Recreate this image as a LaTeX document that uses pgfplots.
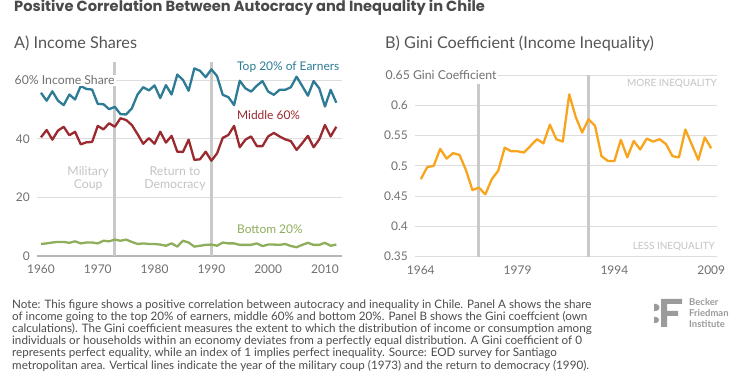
\documentclass[border=0pt]{standalone}
\usepackage{fontspec}
\setmainfont{Lato}
\newfontfamily\titlefont{Poppins}
\usepackage{pgfplots}
\pgfplotsset{compat=1.18}
\definecolor{titlegray}{HTML}{4A4A4A}
\definecolor{paneltitle}{HTML}{555555}
\definecolor{ticklab}{HTML}{707070}
\definecolor{gridgray}{HTML}{DDDDDD}
\definecolor{vgray}{HTML}{C9C9C9}
\definecolor{axgray}{HTML}{B5B5B5}
\definecolor{annot}{HTML}{C4C4C4}
\definecolor{teal}{HTML}{2E7B95}
\definecolor{dred}{HTML}{9A2A30}
\definecolor{lgreen}{HTML}{8FAE5C}
\definecolor{orng}{HTML}{F8A51D}
\definecolor{notegray}{HTML}{4D4D4D}
\definecolor{logogray}{HTML}{9B9B9B}

\pgfplotstableread{
year top mid bot
1960 55.7 40.5 4.1
1961 53.0 43.0 4.3
1962 56.2 39.7 4.6
1963 53.0 42.8 4.8
1964 51.5 44.1 4.8
1965 55.1 41.2 4.5
1966 53.4 42.4 5.0
1967 58.0 38.1 4.3
1968 57.0 38.8 4.6
1969 56.8 38.9 4.6
1970 51.9 44.4 4.3
1971 51.8 43.2 5.2
1972 50.1 45.3 5.0
1973 50.9 44.1 5.6
1974 48.4 47.0 5.2
1975 48.3 46.4 5.6
1976 50.4 44.7 4.8
1977 55.1 41.6 4.1
1978 57.6 38.3 4.3
1979 56.5 40.2 4.1
1980 58.2 38.3 4.1
1981 53.9 42.4 3.9
1982 58.3 38.7 3.5
1983 55.1 41.0 4.3
1984 61.9 35.6 3.2
1985 60.1 35.5 5.2
1986 56.4 39.7 4.6
1987 64.0 32.8 3.2
1988 63.2 33.0 3.5
1989 61.0 35.6 3.8
1990 63.7 32.5 3.9
1991 61.4 35.0 3.5
1992 55.0 40.3 4.6
1993 54.2 41.3 4.3
1994 51.5 44.4 4.3
1995 59.8 37.1 3.8
1996 57.2 39.7 3.8
1997 56.1 40.8 3.8
1998 58.1 37.5 4.3
1999 59.7 37.5 3.4
2000 56.1 40.8 3.9
2001 55.0 42.0 3.9
2002 56.7 40.8 3.8
2003 56.7 39.8 4.1
2004 57.6 39.2 3.4
2005 61.2 36.2 3.0
2006 58.0 38.5 3.8
2007 54.7 41.0 4.5
2008 59.7 37.1 3.8
2009 57.2 39.8 3.8
2010 51.0 44.7 4.5
2011 56.7 40.8 3.5
2012 52.3 44.1 3.9
}\shares

\pgfplotstableread{
year gini
1964 0.478
1965 0.498
1966 0.500
1967 0.528
1968 0.512
1969 0.521
1970 0.518
1971 0.493
1972 0.460
1973 0.464
1974 0.453
1975 0.478
1976 0.492
1977 0.530
1978 0.524
1979 0.524
1980 0.522
1981 0.533
1982 0.544
1983 0.537
1984 0.568
1985 0.544
1986 0.540
1987 0.618
1988 0.581
1989 0.555
1990 0.577
1991 0.566
1992 0.516
1993 0.508
1994 0.508
1995 0.543
1996 0.514
1997 0.541
1998 0.527
1999 0.545
2000 0.540
2001 0.544
2002 0.536
2003 0.516
2004 0.514
2005 0.560
2006 0.535
2007 0.510
2008 0.547
2009 0.529
}\gini

\pgfplotsset{
  panel/.style={
    scale only axis,
    axis line style={draw=none},
    major tick length=0pt,
    ymajorgrids,
    grid style={gridgray, line width=1bp},
    /pgf/number format/assume math mode=true,
    /pgf/number format/1000 sep={},
    tick label style={font=\fontsize{12}{14}\selectfont, text=ticklab},
    yticklabel style={anchor=east, inner sep=0pt, xshift=-7bp},
    xticklabel style={anchor=north, inner sep=0pt, yshift=-9bp},
    clip=false,
  },
}

\begin{document}
\begin{tikzpicture}
\path[use as bounding box, fill=white] (0,0) rectangle (750bp,375bp);

% Title
\node[anchor=base west, inner sep=0pt, text=titlegray, font=\titlefont\fontsize{14.7}{16}\selectfont\bfseries] at (14bp,363bp) {Positive Correlation Between Autocracy and Inequality in Chile};

% Panel titles
\node[anchor=base west, inner sep=0pt, text=paneltitle, font=\fontsize{16.3}{18}\selectfont] at (14bp,326bp) {A) Income Shares};
\node[anchor=base west, inner sep=0pt, text=paneltitle, font=\fontsize{16.3}{18}\selectfont] at (385bp,326bp) {B) Gini Coefficient (Income Inequality)};

% Panel A
\begin{axis}[panel,
  at={(37bp,119bp)}, anchor=south west,
  width=305bp, height=194bp,
  xmin=1959.3, xmax=2013, ymin=0, ymax=66.2,
  xtick={1960,1970,...,2010},
  ytick={20,40,60}, yticklabels={20,40,{}},
  extra y ticks={0}, extra y tick labels={0},
  extra y tick style={grid=none},
]
\draw[axgray, line width=1.2bp] (axis cs:1959.3,0) -- (axis cs:2013,0);
\addplot[vgray, line width=3bp, forget plot] coordinates {(1973,0) (1973,66.2)};
\addplot[vgray, line width=3bp, forget plot] coordinates {(1990,0) (1990,66.2)};
\addplot[teal, line width=2.3bp, line join=round] table[x=year, y=top] {\shares};
\addplot[dred, line width=2.3bp, line join=round] table[x=year, y=mid] {\shares};
\addplot[lgreen, line width=2.3bp, line join=round] table[x=year, y=bot] {\shares};
\node[anchor=west, fill=white, inner xsep=1.5bp, inner ysep=1bp, text=ticklab, font=\fontsize{12.3}{14}\selectfont] at (axis cs:1959.3,60) [xshift=-24bp] {60\% Income Share};
\node[anchor=west, inner sep=0pt, text=teal, font=\fontsize{12}{14}\selectfont] at (axis cs:1994.5,64.5) {Top 20\% of Earners};
\node[anchor=west, inner sep=0pt, text=dred, font=\fontsize{12}{14}\selectfont] at (axis cs:1994.5,48.1) {Middle 60\%};
\node[anchor=west, inner sep=0pt, text=lgreen, font=\fontsize{12}{14}\selectfont] at (axis cs:1994.5,9.2) {Bottom 20\%};
\node[align=center, inner sep=0pt, text=annot, font=\fontsize{12.3}{13}\selectfont] at (axis cs:1968.3,26.3) {Military\\Coup};
\node[align=center, inner sep=0pt, text=annot, font=\fontsize{12.3}{13}\selectfont] at (axis cs:1983.6,26.3) {Return to\\Democracy};
\end{axis}

% Panel B
\begin{axis}[panel,
  at={(415bp,118.3bp)}, anchor=south west,
  width=302bp, height=181.7bp,
  xmin=1963.1, xmax=2009.9, ymin=0.35, ymax=0.65,
  xtick={1964,1979,1994,2009},
  ytick={0.35,0.4,0.45,0.5,0.55,0.6,0.65},
  yticklabels={0.35,0.4,0.45,0.5,0.55,0.6,{}},
]
\addplot[vgray, line width=3bp, forget plot] coordinates {(1973,0.35) (1973,0.635)};
\addplot[vgray, line width=3bp, forget plot] coordinates {(1990,0.35) (1990,0.65)};
\addplot[orng, line width=2.3bp, line join=round] table[x=year, y=gini] {\gini};
\node[anchor=west, fill=white, inner xsep=1.5bp, inner ysep=1bp, text=ticklab, font=\fontsize{12.3}{14}\selectfont] at (axis cs:1963.1,0.65) [xshift=-31bp] {0.65 Gini Coefficient};
\node[anchor=east, inner sep=0pt, text=annot, font=\fontsize{10}{11}\selectfont] at (axis cs:2009.9,0.635) {MORE INEQUALITY};
\node[anchor=east, inner sep=0pt, text=annot, font=\fontsize{10}{11}\selectfont] at (axis cs:2009.6,0.3665) {LESS INEQUALITY};
\end{axis}

% Note
\begin{scope}[every node/.style={anchor=base west, inner sep=0pt, text=notegray, font=\fontsize{11.7}{12}\selectfont}]
\node at (12bp,66.5bp) {Note: This figure shows a positive correlation between autocracy and inequality in Chile. Panel A shows the share};
\node at (12bp,54.4bp) {of income going to the top 20\% of earners, middle 60\% and bottom 20\%. Panel B shows the Gini coeffcient (own};
\node at (12bp,42.3bp) {calculations). The Gini coefficient measures the extent to which the distribution of income or consumption among};
\node at (12bp,30.2bp) {individuals or households within an economy deviates from a perfectly equal distribution. A Gini coefficient of 0};
\node at (12bp,18.1bp) {represents perfect equality, while an index of 1 implies perfect inequality. Source: EOD survey for Santiago};
\node at (12bp,6.0bp) {metropolitan area. Vertical lines indicate the year of the military coup (1973) and the return to democracy (1990).};
\end{scope}

% Logo
\fill[logogray] (661bp,76bp) -- (682bp,76bp) -- (682bp,71bp) -- (667bp,71bp) -- (667bp,64bp) -- (678bp,64bp) -- (678bp,59bp) -- (667bp,59bp) -- (667bp,48bp) -- (661bp,48bp) -- cycle;
\fill[logogray] (654bp,71bp) -- (656bp,71bp) arc[start angle=90, end angle=-90, radius=3.5bp] -- (654bp,64bp) -- cycle;
\fill[logogray] (654bp,58bp) -- (656bp,58bp) arc[start angle=90, end angle=-90, radius=3bp] -- (654bp,52bp) -- cycle;
\begin{scope}[every node/.style={anchor=base west, inner sep=0pt, text=logogray, font=\fontsize{9.5}{10}\selectfont\bfseries}]
\node at (689bp,69.5bp) {Becker};
\node at (689bp,58bp) {Friedman};
\node at (689bp,47.5bp) {Institute};
\end{scope}
\end{tikzpicture}
\end{document}
